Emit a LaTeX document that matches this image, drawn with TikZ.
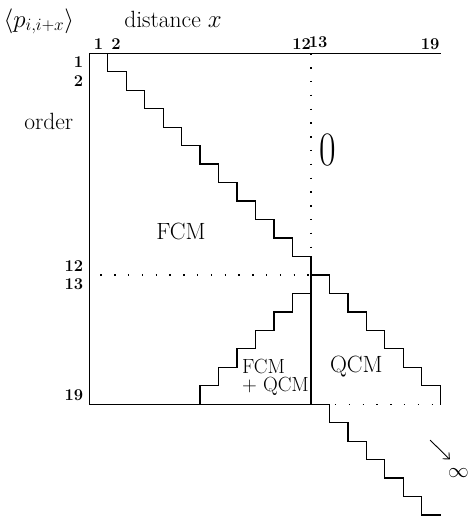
\documentclass[tikz,border=0pt]{standalone}
\usetikzlibrary{arrows.meta}
\begin{document}
\begin{tikzpicture}[x=18.47pt,y=-18.47pt,
  stair/.style={line width=1.3pt, line join=miter, line cap=rect},
  dots/.style={line width=1.4pt, dash pattern=on 1.4pt off 12.4pt},
  lbl/.style={font=\fontsize{23.5}{25}\selectfont, inner sep=0pt},
  num/.style={font=\fontsize{16.5}{18}\selectfont\bfseries, inner sep=0pt},
  pointer/.style={line width=0.9pt, -{Straight Barb[length=5pt,width=9pt]}}]
\useasboundingbox (-4.835,-2.886) rectangle (20.61,25.05);

% frame
\draw[stair] (0,19) -- (0,0) -- (19,0);
\draw[stair] (0,19) -- (13,19);
\draw[stair] (12,11) -- (12,19);

% upper staircase (FCM)
\draw[stair] (1,0) \foreach \k in {1,...,11} { |- (\k+1,\k) };
% right staircase (QCM)
\draw[stair] (12,12) \foreach \k in {13,...,19} { -| (\k,\k) };
% lower-left staircase (FCM + QCM)
\draw[stair] (6,19) \foreach \k in {1,...,6} { |- (6+\k,19-\k) };
% lower-right staircase towards infinity
\draw[stair] (13,19) \foreach \k in {1,...,6} { |- (13+\k,19+\k) };

% dotted lines
\draw[dots] (12,0) -- (12,11);
\draw[dots] (0.6,12) -- (12,12);
\draw[dots] (13.3,19) -- (19,19);

% titles
\node[lbl, anchor=base] (ptitle) at (-2.734,-1.424) {$\langle p_{i,i+x}\rangle$};
\node[lbl, anchor=base] (dist) at (4.532,-1.424) {distance $x$};
\node[lbl, anchor=base] (order) at (-2.193,4.098) {order};

% column numbers
\node[num, anchor=base] (c1) at (0.5,-0.233) {1};
\node[num, anchor=base] (c2) at (1.45,-0.233) {2};
\node[num, anchor=base] (c12) at (11.5,-0.233) {12};
\node[num, anchor=base] (c13) at (12.39,-0.30) {13};
\node[num, anchor=base] (c19) at (18.45,-0.233) {19};

% row numbers
\node[num, anchor=east] (r1) at (-0.325,0.5) {1};
\node[num, anchor=east] (r2) at (-0.325,1.5) {2};
\node[num, anchor=east] (r12) at (-0.325,11.5) {12};
\node[num, anchor=east] (r13) at (-0.325,12.5) {13};
\node[num, anchor=east] (r19) at (-0.325,18.5) {19};

% region labels
\node[lbl, anchor=base] (fcm) at (4.965,10.107) {FCM};
\node[lbl] (zero) at (12.934,5.226) {\fontsize{48}{50}\selectfont\scalebox{0.75}[1]{0}};
\node[lbl, anchor=base west, align=left, font=\fontsize{20.5}{18.2}\selectfont] (fcmqcm) at (8.26,18.31) {FCM\\ + QCM};
\node[lbl, anchor=base] (qcm) at (14.456,17.28) {QCM};

% infinity
\coordinate (astart) at (18.45,20.94);
\coordinate (aend) at (19.52,21.99);
\draw[pointer] (astart) -- (aend);
\node[lbl] (inf) at (19.99,22.75) {\fontsize{22}{25}\selectfont$\infty$};
\end{tikzpicture}
\end{document}
